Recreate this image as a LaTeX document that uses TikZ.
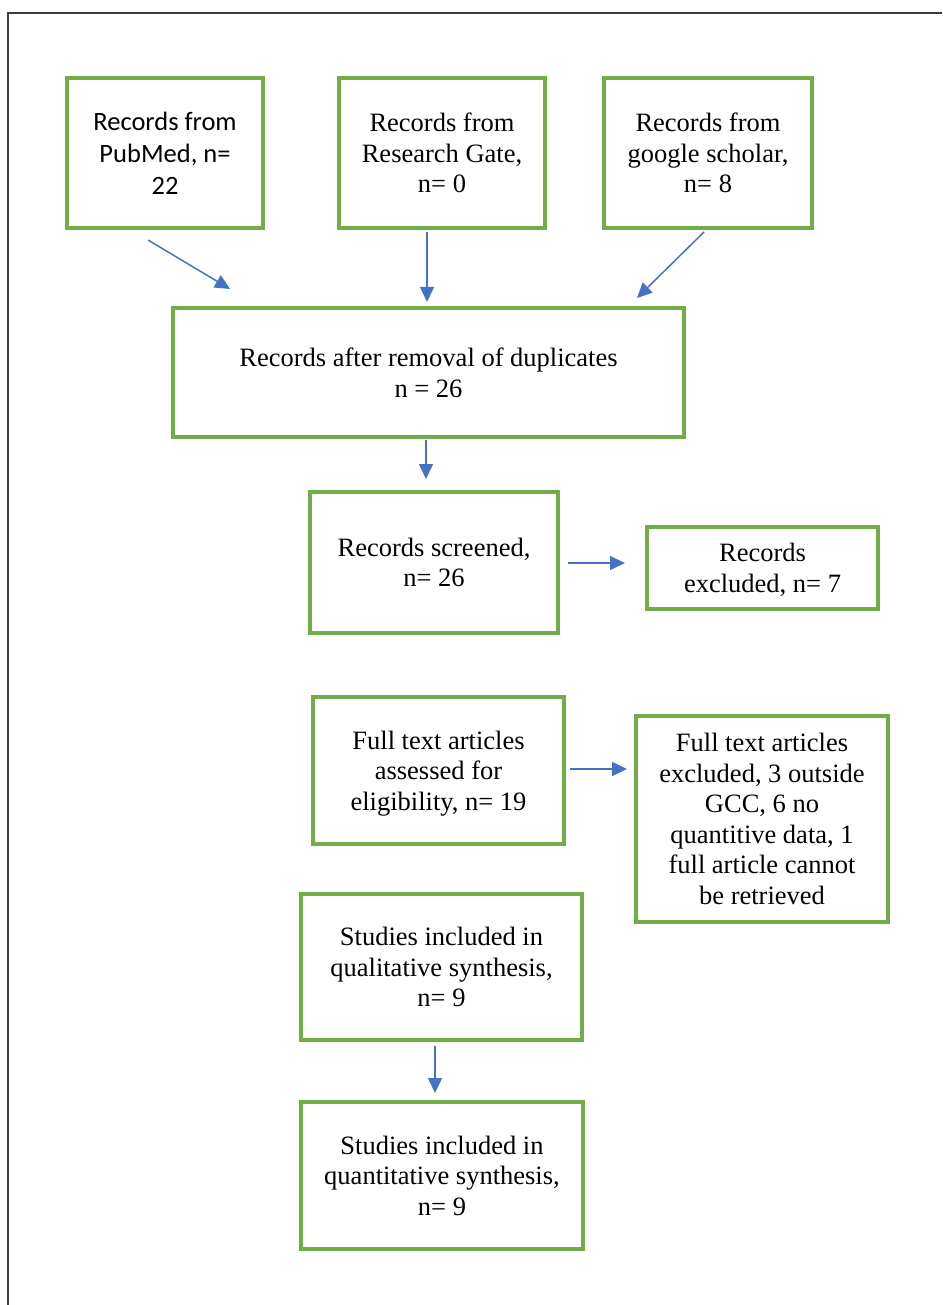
\documentclass[tikz,border=0pt]{standalone}
\usepackage{fontspec}
\setmainfont{Liberation Serif}
\newfontfamily\calib{Carlito}
\usetikzlibrary{arrows.meta}
\definecolor{boxgreen}{RGB}{112,173,71}
\definecolor{arrowblue}{RGB}{68,114,196}
\definecolor{framegray}{RGB}{60,60,60}
\tikzset{
  flowbox/.style={draw=boxgreen, line width=4pt, rectangle, align=center, inner sep=0pt,
    text depth=-4pt, font=\fontsize{26.5}{30.5}\selectfont},
  flowarrow/.style={draw=arrowblue, line width=1.5pt, -{Triangle[length=15pt,width=14pt]}},
}
\begin{document}
\begin{tikzpicture}[x=1pt,y=-1pt]
\useasboundingbox (0,0) rectangle (942,1305);
\draw[framegray, line width=1.3pt] (942,13) -- (8,13) -- (8,1305);

\node[flowbox, minimum width=196pt, minimum height=150pt, text depth=0pt, font=\calib\fontsize{26.5}{32}\selectfont] (b1) at (165,153) {Records from\\PubMed, n=\\22};
\node[flowbox, minimum width=206pt, minimum height=150pt] (b2) at (442,153) {Records from\\Research Gate,\\n= 0};
\node[flowbox, minimum width=208pt, minimum height=150pt] (b3) at (708,153) {Records from\\google scholar,\\n= 8};
\node[flowbox, minimum width=511pt, minimum height=129pt] (b4) at (428.5,372.5) {Records after removal of duplicates\\n = 26};
\node[flowbox, minimum width=248pt, minimum height=141pt] (b5) at (434,562.5) {Records screened,\\n= 26};
\node[flowbox, minimum width=231pt, minimum height=82pt] (b6) at (762.5,568) {Records\\excluded, n= 7};
\node[flowbox, minimum width=251pt, minimum height=147pt] (b7) at (438.5,770.5) {Full text articles\\assessed for\\eligibility, n= 19};
\node[flowbox, minimum width=252pt, minimum height=206pt] (b8) at (762,819) {Full text articles\\excluded, 3 outside\\GCC, 6 no\\quantitive data, 1\\full article cannot\\be retrieved};
\node[flowbox, minimum width=281pt, minimum height=146pt] (b9) at (441.5,967) {Studies included in\\qualitative synthesis,\\n= 9};
\node[flowbox, minimum width=282pt, minimum height=147pt] (b10) at (442,1175.5) {Studies included in\\quantitative synthesis,\\n= 9};

\coordinate (a1s) at (148,240);
\coordinate (a1e) at (230,289);
\coordinate (a2s) at (427,232);
\coordinate (a2e) at (427,302);
\coordinate (a3s) at (704,232);
\coordinate (a3e) at (637,298);
\coordinate (a4s) at (426,440);
\coordinate (a4e) at (426,479);
\coordinate (a5s) at (568,563);
\coordinate (a5e) at (625,563);
\coordinate (a6s) at (570,769);
\coordinate (a6e) at (627,769);
\coordinate (a7s) at (435,1046);
\coordinate (a7e) at (435,1093);

\draw[flowarrow] (a1s) -- (a1e);
\draw[flowarrow] (a2s) -- (a2e);
\draw[flowarrow] (a3s) -- (a3e);
\draw[flowarrow] (a4s) -- (a4e);
\draw[flowarrow] (a5s) -- (a5e);
\draw[flowarrow] (a6s) -- (a6e);
\draw[flowarrow] (a7s) -- (a7e);
\end{tikzpicture}
\end{document}
